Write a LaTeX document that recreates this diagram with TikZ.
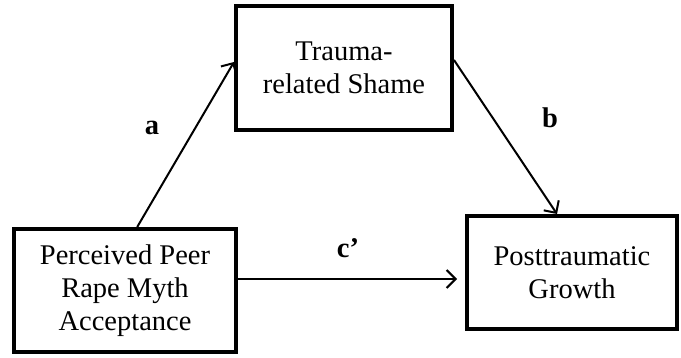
\documentclass[tikz,border=0pt]{standalone}
\usepackage{fontspec}
\setmainfont{Liberation Serif}
\usetikzlibrary{arrows.meta,calc}
\begin{document}
\begin{tikzpicture}[x=1pt,y=-1pt,
  box/.style={draw,line width=4pt,align=center,inner sep=0pt,
    font=\fontsize{28.5}{33}\selectfont},
  conn/.style={line width=2pt,-{Straight Barb[length=9pt,width=18pt,line width=2pt]}},
  lab/.style={font=\fontsize{28.5}{33}\selectfont\bfseries,inner sep=0pt}]
\useasboundingbox (0,0) rectangle (681,358);
\node[box,minimum width=216pt,minimum height=124pt] (t) at (344,68) {Trauma-\\related Shame};
\node[box,minimum width=222pt,minimum height=123pt] (l) at (125,290.5) {Perceived Peer\\Rape Myth\\Acceptance};
\node[box,minimum width=210pt,minimum height=113pt] (r) at (572,272.5) {Posttraumatic\\Growth};
\draw[conn] ($(l.north west)!0.554!(l.north east)$) -- ([yshift=6pt]t.west);
\draw[conn] ([yshift=8pt]t.east) -- ($(r.north west)!0.43!(r.north east)$);
\draw[conn,shorten >=8pt] ([yshift=11.5pt]l.east) -- ([yshift=11.5pt]l.east -| r.west);
\node[lab] (la) at (152,128) {a};
\node[lab] (lb) at (550,118) {b};
\node[lab] (lc) at (348,248) {c’};
\end{tikzpicture}
\end{document}
